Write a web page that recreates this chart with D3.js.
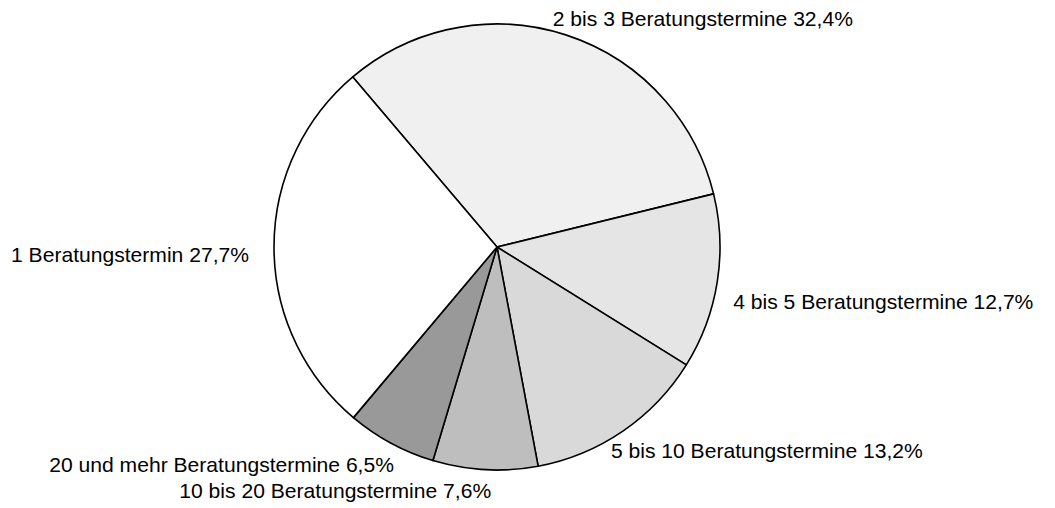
<!DOCTYPE html>
<html><head><meta charset="utf-8">
<script src="https://cdn.jsdelivr.net/npm/d3@7"></script>
<style>html,body{margin:0;padding:0;background:#fff;}svg{display:block;}</style>
</head><body>
<svg id="chart" width="1055" height="508"></svg>
<script>
const categories = ["2 bis 3 Beratungstermine","4 bis 5 Beratungstermine","5 bis 10 Beratungstermine","10 bis 20 Beratungstermine","20 und mehr Beratungstermine","1 Beratungstermin"];
const values = [32.4, 12.7, 13.2, 7.6, 6.5, 27.7];
const valueLabels = ["32,4%","12,7%","13,2%","7,6%","6,5%","27,7%"];
const fills = ["#f0f0f0","#e5e5e5","#d9d9d9","#bebebe","#999999","#ffffff"];
// label layout: anchor side and nudge from the slice's outer point
const labelLayout = [
  {anchor:"start", dx:-13, dy:-9},
  {anchor:"start", dx:16, dy:26.6},
  {anchor:"start", dx:-12, dy:26.7},
  {anchor:"end", dx:6, dy:28.7},
  {anchor:"end", dx:3, dy:28.7},
  {anchor:"end", dx:-25, dy:15}
];

const cx = 497, cy = 247, r = 223;
const start = -40.3 * Math.PI / 180;
const svg = d3.select("#chart");
const g = svg.append("g").attr("transform", `translate(${cx},${cy})`);
const pie = d3.pie().sort(null).value(d => d.v).startAngle(start).endAngle(start + 2*Math.PI);
const data = categories.map((c,i) => ({c, v: values[i], i}));
const arcs = pie(data);
const arc = d3.arc().innerRadius(0).outerRadius(r);

g.selectAll("path").data(arcs).join("path")
  .attr("d", arc)
  .attr("fill", d => fills[d.data.i])
  .attr("stroke", "#000")
  .attr("stroke-width", 1.6)
  .attr("stroke-linejoin", "round");

g.selectAll("text").data(arcs).join("text")
  .attr("x", d => { const a=(d.startAngle+d.endAngle)/2; return r*Math.sin(a) + labelLayout[d.data.i].dx; })
  .attr("y", d => { const a=(d.startAngle+d.endAngle)/2; return -r*Math.cos(a) + labelLayout[d.data.i].dy; })
  .attr("text-anchor", d => labelLayout[d.data.i].anchor)
  .attr("font-family", "Liberation Sans, Arial, sans-serif")
  .attr("font-size", "21.1px")
  .attr("fill", "#000")
  .text(d => d.data.c + " " + valueLabels[d.data.i]);
</script>
</body></html>
